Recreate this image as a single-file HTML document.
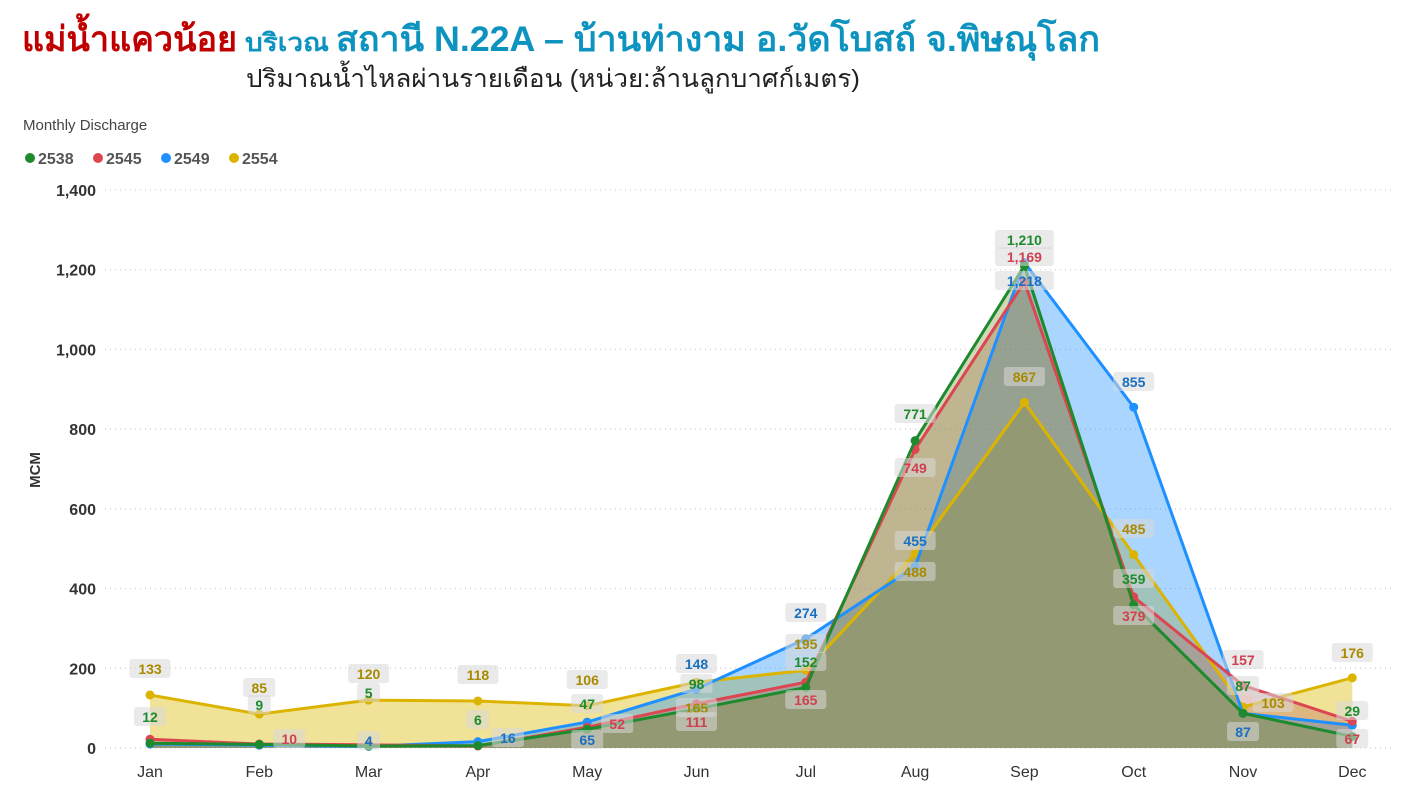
<!DOCTYPE html>
<html><head><meta charset="utf-8"><style>
body{margin:0;background:#fff;width:1407px;height:791px;overflow:hidden;font-family:"Liberation Sans","Noto Sans CJK SC",sans-serif}
</style></head><body>
<svg id="s" width="1407" height="791" xmlns="http://www.w3.org/2000/svg" font-family="Liberation Sans, Noto Sans CJK SC, sans-serif">
<text x="22" y="51" font-size="35" font-weight="bold" fill="#c00000" textLength="215" lengthAdjust="spacingAndGlyphs">แม่น้ำแควน้อย</text>
<text x="245" y="51" font-size="25" font-weight="bold" fill="#0d93bf" textLength="84" lengthAdjust="spacingAndGlyphs">บริเวณ</text>
<text x="336" y="51" font-size="35" font-weight="bold" fill="#0d93bf" textLength="764" lengthAdjust="spacingAndGlyphs">สถานี N.22A – บ้านท่างาม อ.วัดโบสถ์ จ.พิษณุโลก</text>
<text x="246" y="87" font-size="25" fill="#222" textLength="614" lengthAdjust="spacingAndGlyphs">ปริมาณน้ำไหลผ่านรายเดือน (หน่วย:ล้านลูกบาศก์เมตร)</text>
<text x="23" y="130" font-size="15" fill="#444">Monthly Discharge</text>
<g font-size="16" font-weight="bold" fill="#555">
<circle cx="30" cy="158" r="5" fill="#1e8a2e"/><text x="38" y="164">2538</text>
<circle cx="98" cy="158" r="5" fill="#dc4650"/><text x="106" y="164">2545</text>
<circle cx="166" cy="158" r="5" fill="#1e90ff"/><text x="174" y="164">2549</text>
<circle cx="234" cy="158" r="5" fill="#dcb400"/><text x="242" y="164">2554</text>
</g>
<text transform="translate(40,470) rotate(-90)" font-size="15" font-weight="bold" fill="#333" text-anchor="middle">MCM</text>
<g id="grid"></g><g id="areas"></g><g id="lines"></g><g id="labels"></g>
</svg>
<script>
const NS='http://www.w3.org/2000/svg';
function el(p,t,a,txt){const e=document.createElementNS(NS,t);for(const k in a)e.setAttribute(k,a[k]);if(txt!==undefined)e.textContent=txt;document.getElementById(p).appendChild(e);return e;}
const X=i=>150+i*109.3, Y=v=>748-v*0.3986;
for(let v=0;v<=1400;v+=200){const y=Y(v);el('grid','line',{x1:105,x2:1392,y1:y,y2:y,stroke:'#ccc','stroke-dasharray':'1 4','stroke-width':1.2});
el('grid','text',{x:96,y:y+6,'text-anchor':'end','font-size':16,'font-weight':'bold',fill:'#333'},v.toLocaleString('en-US'));}
const M=['Jan','Feb','Mar','Apr','May','Jun','Jul','Aug','Sep','Oct','Nov','Dec'];
M.forEach((m,i)=>el('grid','text',{x:X(i),y:777,'text-anchor':'middle','font-size':16,fill:'#333'},m));
// label positions: absolute [x offset, label y]
const S=[
{c:'#dcb400',t:'#a88a00',d:[133,85,120,118,106,165,195,488,867,485,103,176],f:'#e2c530',o:0.5,
 L:[[0,673],[0,692],[0,678],[0,679],[0,684],[0,712],[0,648],[0,576],[0,381],[0,533],[30,707],[0,657]]},
{c:'#1e90ff',t:'#1a6fc0',d:[10,7,4,16,65,148,274,455,1218,855,87,57],f:'#1e90ff',o:0.38,
 L:[[null],[null],[0,745],[30,742],[0,744],[0,668],[0,617],[0,545],[0,285],[0,386],[0,736],[null]]},
{c:'#dc4650',t:'#d04050',d:[22,10,8,5,52,111,165,749,1169,379,157,67],f:'#b85a50',o:0.32,
 L:[[null],[30,743],[null],[null],[30,728],[0,726],[0,704],[0,472],[0,261],[0,620],[0,664],[0,743]]},
{c:'#1e8a2e',t:'#1e8a2e',d:[12,9,5,6,47,98,152,771,1210,359,87,29],f:'#6a8a20',o:0.32,
 L:[[0,721],[0,709],[0,697],[0,724],[0,708],[0,688],[0,666],[0,418],[0,244],[0,583],[0,690],[0,715]]}];
S.forEach(s=>{let p=s.d.map((v,i)=>X(i)+','+Y(v)).join(' ');
el('areas','polygon',{points:X(0)+','+Y(0)+' '+p+' '+X(11)+','+Y(0),fill:s.f,'fill-opacity':s.o});
el('lines','polyline',{points:p,fill:'none',stroke:s.c,'stroke-width':3});
s.d.forEach((v,i)=>{el('lines','circle',{cx:X(i),cy:Y(v),r:4.5,fill:s.c});
const l=s.L[i];if(l[0]===null)return;const lx=X(i)+l[0],ly=l[1];const txt=v.toLocaleString('en-US');const w=txt.length*9+14;
el('labels','rect',{x:lx-w/2,y:ly-14,width:w,height:19,rx:3,fill:'#d8d8d8','fill-opacity':0.55});
el('labels','text',{x:lx,y:ly+1,'text-anchor':'middle','font-size':14,'font-weight':'bold',fill:s.t},txt);});});
</script>
</body></html>
